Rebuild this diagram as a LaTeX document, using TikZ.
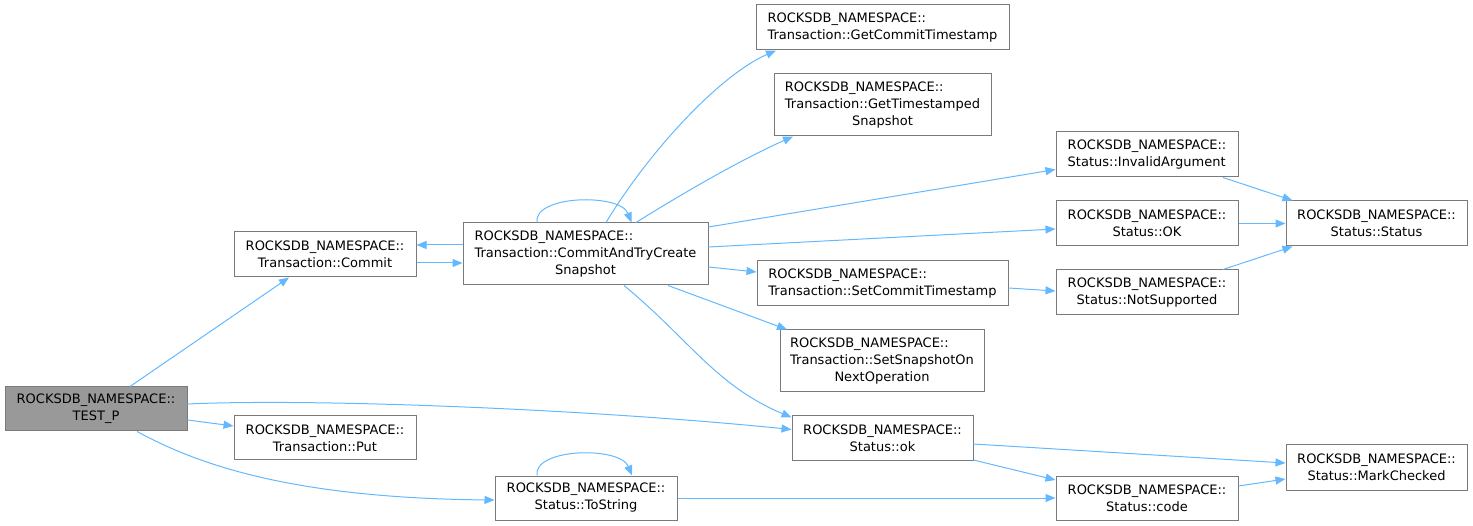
\documentclass[tikz,border=0pt]{standalone}
\usepackage{fontspec}
\setmainfont{DejaVu Sans}
\usetikzlibrary{arrows.meta,calc}
\definecolor{edgeblue}{HTML}{63B8FF}
\definecolor{boxborder}{HTML}{7A7A7A}
\definecolor{rootfill}{HTML}{999999}
\tikzset{
  box/.style={draw=boxborder, fill=white, line width=1pt, inner sep=0pt, align=center,
    font=\fontsize{13}{17}\selectfont, text=black},
  rootbox/.style={box, fill=rootfill},
  call/.style={draw=edgeblue, line width=1pt, -{Triangle[length=10pt,width=8pt]}},
}
\begin{document}
\begin{tikzpicture}[x=1pt,y=-1pt]
\useasboundingbox (0,0) rectangle (1473,526);
% nodes
\node[rootbox, minimum width=182pt, minimum height=44pt] (testp) at (96,409) {ROCKSDB\_NAMESPACE::\\TEST\_P};
\node[box, minimum width=182pt, minimum height=45pt] (commit) at (325,254.5) {ROCKSDB\_NAMESPACE::\\Transaction::Commit};
\node[box, minimum width=182pt, minimum height=44pt] (put) at (325,438) {ROCKSDB\_NAMESPACE::\\Transaction::Put};
\node[box, minimum width=245pt, minimum height=62pt] (cats) at (585.5,254) {\rlap{ROCKSDB\_NAMESPACE::}\phantom{Transaction::CommitAndTryCreate}\\Transaction::CommitAndTryCreate\\Snapshot};
\node[box, align=left, minimum width=253pt, minimum height=45pt] (gct) at (882.5,27.5) {ROCKSDB\_NAMESPACE::\\Transaction::GetCommitTimestamp};
\node[box, minimum width=217pt, minimum height=62pt] (gts) at (882.5,105) {\rlap{ROCKSDB\_NAMESPACE::}\phantom{Transaction::GetTimestamped}\\Transaction::GetTimestamped\\Snapshot};
\node[box, align=left, minimum width=251pt, minimum height=45pt] (sct) at (882.5,283.5) {ROCKSDB\_NAMESPACE::\\Transaction::SetCommitTimestamp};
\node[box, minimum width=204pt, minimum height=62pt] (sson) at (882,361) {\rlap{ROCKSDB\_NAMESPACE::}\phantom{Transaction::SetSnapshotOn}\\Transaction::SetSnapshotOn\\NextOperation};
\node[box, minimum width=181pt, minimum height=45pt] (ok) at (882.5,438.5) {ROCKSDB\_NAMESPACE::\\Status::ok};
\node[box, minimum width=182pt, minimum height=44pt] (tostring) at (586,498) {ROCKSDB\_NAMESPACE::\\Status::ToString};
\node[box, align=left, minimum width=182pt, minimum height=45pt] (ia) at (1147,154.5) {ROCKSDB\_NAMESPACE::\\Status::InvalidArgument};
\node[box, minimum width=182pt, minimum height=45pt] (okc) at (1147,223.5) {ROCKSDB\_NAMESPACE::\\Status::OK};
\node[box, minimum width=182pt, minimum height=45pt] (ns) at (1147,292.5) {ROCKSDB\_NAMESPACE::\\Status::NotSupported};
\node[box, minimum width=182pt, minimum height=44pt] (code) at (1147,498) {ROCKSDB\_NAMESPACE::\\Status::code};
\node[box, minimum width=181pt, minimum height=45pt] (status) at (1376.5,223.5) {ROCKSDB\_NAMESPACE::\\Status::Status};
\node[box, minimum width=181pt, minimum height=45pt] (mc) at (1376.5,467.5) {ROCKSDB\_NAMESPACE::\\Status::MarkChecked};
% edges
\draw[call] ($(testp.north)+(34,0)$) -- ($(commit.south)+(-36,0)$);
\draw[call] ($(testp.east)+(0,11)$) -- ($(put.west)+(0,-12)$);
\draw[call] ($(testp.east)+(0,-5)$) .. controls (320,398) and (600,410) .. ($(ok.west)+(0,-9)$);
\draw[call] ($(testp.south)+(41,0)$) .. controls (190,460) and (280,498) .. ($(tostring.west)+(0,2)$);
\draw[call] ($(commit.east)+(0,8.5)$) -- ($(cats.west)+(0,9)$);
\draw[call] ($(cats.west)+(0,-9)$) -- ($(commit.east)+(0,-9.5)$);
\draw[call] ($(cats.north)+(-48.5,0)$) .. controls (533,195) and (620,193) .. ($(cats.north)+(46,0)$);
\draw[call] ($(cats.north)+(20.5,0)$) .. controls (650,150) and (720,75) .. ($(gct.south)+(-106.5,0)$);
\draw[call] ($(cats.north)+(50.5,0)$) .. controls (680,195) and (740,160) .. ($(gts.south)+(-89.5,0)$);
\draw[call] ($(cats.east)+(0,-27)$) -- ($(ia.west)+(0,15)$);
\draw[call] ($(cats.east)+(0,-7)$) -- ($(okc.west)+(0,5.5)$);
\draw[call] ($(cats.east)+(0,13)$) -- ($(sct.west)+(0,-11.5)$);
\draw[call] ($(cats.south)+(82.5,0)$) -- ($(sson.north)+(-95,0)$);
\draw[call] ($(cats.south)+(38.5,0)$) .. controls (690,340) and (715,385) .. ($(ok.north west)+(0,2)$);
\draw[call] ($(ia.south)+(76,0)$) -- ($(status.north)+(-84,0)$);
\draw[call] (okc.east) -- (status.west);
\draw[call] ($(ns.north)+(76,0)$) -- ($(status.south)+(-84,0)$);
\draw[call] ($(sct.east)+(0,4.5)$) -- ($(ns.west)+(0,-1.5)$);
\draw[call] ($(ok.east)+(0,5.5)$) -- ($(mc.west)+(0,-4.5)$);
\draw[call] ($(ok.east)+(0,21.5)$) -- ($(code.west)+(0,-18)$);
\draw[call] ($(code.east)+(0,-12)$) -- ($(mc.west)+(0,11.5)$);
\draw[call] (tostring.east) -- (code.west);
\draw[call] ($(tostring.north)+(-49,0)$) .. controls (533,448) and (620,446) .. ($(tostring.north)+(46,0)$);
\end{tikzpicture}
\end{document}
